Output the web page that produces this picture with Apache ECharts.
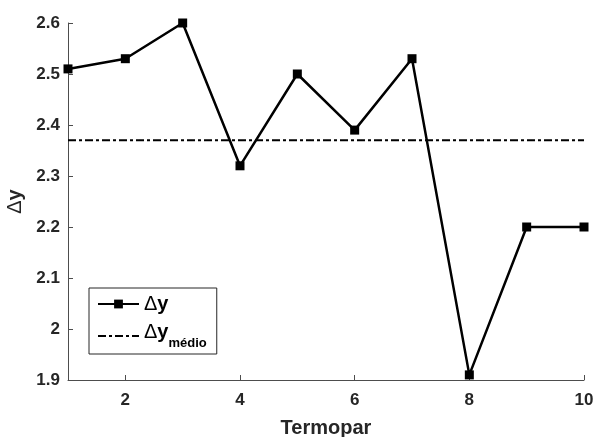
<!DOCTYPE html>
<html><head><meta charset="utf-8">
<script src="https://cdn.jsdelivr.net/npm/echarts@6/dist/echarts.min.js"></script>
<style>html,body{margin:0;padding:0;background:#fff}#c{width:593px;height:437px}</style>
</head><body><div id="c"></div>
<script>
const categories = [1,2,3,4,5,6,7,8,9,10];
const deltaY = [2.51,2.53,2.60,2.32,2.50,2.39,2.53,1.91,2.20,2.20];
const deltaYMedio = [2.37,2.37,2.37,2.37,2.37,2.37,2.37,2.37,2.37,2.37];
const xTicks = [2,4,6,8,10];

const chart = echarts.init(document.getElementById('c'), null, {renderer:'canvas'});
const font = 'Liberation Sans, Arial, Helvetica, sans-serif';
const axisCol = '#4d4d4d';
const txtCol = '#262626';
chart.setOption({
  animation:false,
  backgroundColor:'#fff',
  grid:{left:68, top:23, right:9, bottom:57, outerBoundsMode:'none', containLabel:false},
  xAxis:{
    type:'value', min:1, max:10,
    name:'Termopar', nameLocation:'middle', nameGap:38,
    nameTextStyle:{fontFamily:font, fontWeight:'bold', fontSize:20, color:txtCol},
    axisLine:{show:true, lineStyle:{color:axisCol, width:1}},
    axisTick:{show:true, inside:true, length:5, customValues:xTicks, lineStyle:{color:axisCol}},
    axisLabel:{customValues:xTicks, fontFamily:font, fontWeight:'bold', fontSize:17, color:txtCol, margin:12},
    splitLine:{show:false}
  },
  yAxis:{
    type:'value', min:1.9, max:2.6, interval:0.1,
    name:'{d|Δ}{y|y}', nameLocation:'middle', nameGap:42, nameRotate:90,
    nameTextStyle:{fontFamily:font, fontSize:20, color:txtCol,
      rich:{d:{fontFamily:font, fontSize:20, fontWeight:'normal', color:txtCol},
            y:{fontFamily:font, fontSize:20, fontWeight:'bold', color:txtCol}}},
    axisLine:{show:true, lineStyle:{color:axisCol, width:1}},
    axisTick:{show:true, inside:true, length:5, lineStyle:{color:axisCol}},
    axisLabel:{fontFamily:font, fontWeight:'bold', fontSize:17, color:txtCol, margin:8,
      formatter:v=>String(Math.round(v*10)/10)},
    splitLine:{show:false}
  },
  legend:{
    show:true,
    orient:'vertical', left:89, top:288,
    padding:[6,10,4,8], itemGap:8,
    borderColor:'#262626', borderWidth:1, backgroundColor:'#fff',
    itemWidth:41, itemHeight:11,
    data:[{name:'dy'},{name:'dym', itemStyle:{opacity:0}}],
    textStyle:{fontFamily:font, fontWeight:'bold', fontSize:20, color:'#000',
      rich:{
        d:{fontFamily:font, fontWeight:'normal', fontSize:20, color:'#000', verticalAlign:'top'},
        b:{fontFamily:font, fontWeight:'bold', fontSize:20, color:'#000', verticalAlign:'top'},
        s:{fontFamily:font, fontWeight:'bold', fontSize:13, color:'#000', verticalAlign:'bottom', padding:[15,0,0,0]}
      }},
    formatter:function(n){ return n==='dy' ? '{d|Δ}{b|y}' : '{d|Δ}{b|y}{s|médio}'; }
  },
  series:[
    {name:'dy', type:'line', data:categories.map((c,i)=>[c,deltaY[i]]),
     symbol:'rect', symbolSize:9, itemStyle:{color:'#000'},
     lineStyle:{color:'#000', width:2.5}, z:3},
    {name:'dym', type:'line', data:categories.map((c,i)=>[c,deltaYMedio[i]]),
     symbol:'none', lineStyle:{color:'#000', width:2, type:[8,3,3,3]}, itemStyle:{color:'#000'}, z:2}
  ]
});
</script></body></html>
